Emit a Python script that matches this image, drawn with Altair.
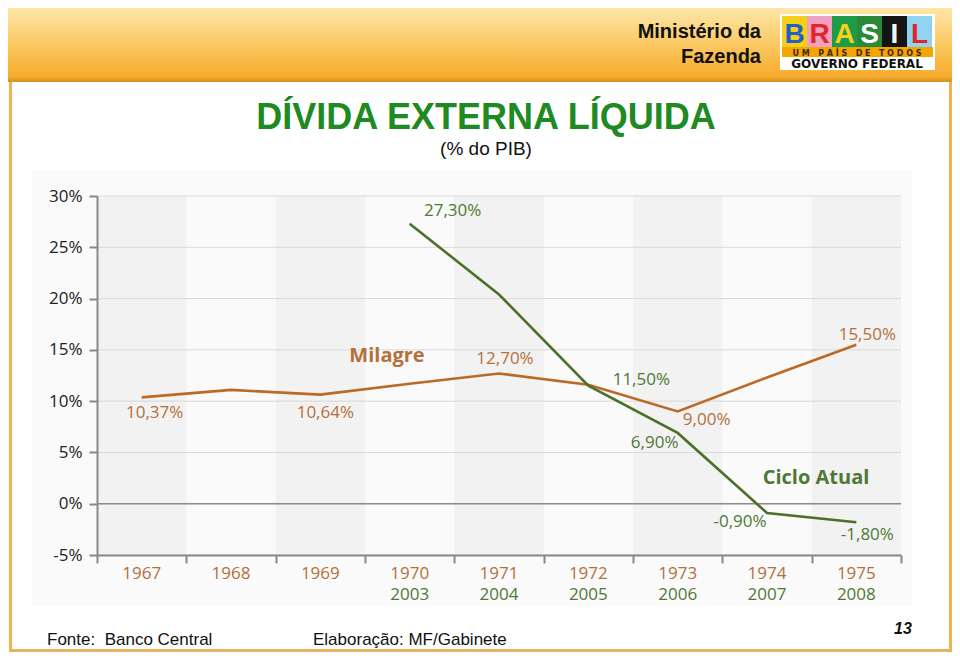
import altair as alt
import pandas as pd

# ---------------- data ----------------
anos_milagre = [1967, 1968, 1969, 1970, 1971, 1972, 1973, 1974, 1975]
divida_milagre = [10.37, 11.1, 10.64, 11.7, 12.70, 11.6, 9.00, 12.3, 15.50]
anos_atual = [2003, 2004, 2005, 2006, 2007, 2008]
divida_atual = [27.30, 20.4, 11.50, 6.90, -0.90, -1.80]
y_ticks = [-5, 0, 5, 10, 15, 20, 25, 30]

BROWN_LINE = "#bb6a26"
BROWN_TXT = "#b3703a"
GREEN_LINE = "#4d7029"
GREEN_TXT = "#4f7834"
FONT = "Open Sans"
NB = "\u00a0"

W, H = 804, 359
PAD_L, PAD_T = 89, 188
SVG_W, SVG_H = 944, 644

n = len(anos_milagre)
off = n - len(anos_atual)
df_m = pd.DataFrame({"i": list(range(n)), "ano": anos_milagre, "v": divida_milagre})
df_a = pd.DataFrame({"i": list(range(off, n)), "ano": anos_atual, "v": divida_atual})
df_bands = pd.DataFrame({"a": [i - 0.5 for i in range(0, n, 2)], "b": [i + 0.5 for i in range(0, n, 2)]})
x_tick_vals = [i - 0.5 for i in range(n + 1)]

xs = alt.Scale(domain=[-0.5, n - 0.5], nice=False, zero=False)
ys = alt.Scale(domain=[-5, 30], nice=False, zero=False)

AX_X = alt.Axis(values=x_tick_vals, labels=False, title=None, grid=False,
                tickSize=8, tickColor="#898989", tickWidth=2,
                domainColor="#898989", domainWidth=2, zindex=1)
AX_Y = alt.Axis(values=y_ticks, title=None, labelExpr="datum.value + '%'",
                labelFont=FONT, labelFontSize=17, labelColor="#222222",
                labelPadding=7, tickSize=8, tickColor="#898989", tickWidth=2,
                domainColor="#898989", domainWidth=2, grid=False, zindex=1)

def X(f):
    return alt.X(f, scale=xs, axis=AX_X)

def Y(f):
    return alt.Y(f, scale=ys, axis=AX_Y)

def px(v):  # page x -> plot coordinate
    return v - 97

def py(v):  # page y -> plot coordinate
    return v - 196

layers = []

def deco_rect(x1, y1, x2, y2, color, **kw):
    d = pd.DataFrame({"k": [0]})
    return alt.Chart(d).mark_rect(color=color, **kw).encode(
        x=alt.value(px(x1)), x2=alt.value(px(x2)), y=alt.value(py(y1)), y2=alt.value(py(y2)))

def deco_text(txt, x, y, size, color, font="Liberation Sans", weight="normal", align="center",
              baseline="alphabetic", style="normal"):
    d = pd.DataFrame({"t": [txt]})
    return alt.Chart(d).mark_text(fontSize=size, color=color, font=font, fontWeight=weight,
                                  align=align, baseline=baseline, fontStyle=style).encode(
        text="t:N", x=alt.value(px(x)), y=alt.value(py(y)))

# light chart background
layers.append(deco_rect(32, 170, 912, 606, "#fafafa"))

# header gradient
grad = alt.Gradient(gradient="linear", x1=0, x2=0, y1=0, y2=1,
                    stops=[alt.GradientStop(color="#fde7a8", offset=0),
                           alt.GradientStop(color="#fbc861", offset=0.5),
                           alt.GradientStop(color="#f6ab2c", offset=0.93),
                           alt.GradientStop(color="#d98f22", offset=1)])
layers.append(deco_rect(8, 8, 952, 82, grad))

# frame lines
layers.append(deco_rect(9, 82, 12, 652, "#efb44c"))
layers.append(deco_rect(949, 82, 952, 652, "#efb44c"))
layers.append(deco_rect(9, 649, 952, 652, "#e6b462"))

# header text
layers.append(deco_text("Ministério da", 761, 38, 20, "#111111", weight="bold", align="right"))
layers.append(deco_text("Fazenda", 761, 63, 20, "#111111", weight="bold", align="right"))

# logo
layers.append(deco_rect(780, 14, 935, 70, "#ffffff"))
logo_letters = ["B", "R", "A", "S", "I", "L"]
logo_bg = ["#f6cf1a", "#f2a0bf", "#1f9b48", "#2a8a3a", "#151515", "#8fd3f0"]
logo_fg = ["#2160c4", "#e0262c", "#f6d21a", "#ffffff", "#f4f4f4", "#e0262c"]
for k, (ch, bg, fg) in enumerate(zip(logo_letters, logo_bg, logo_fg)):
    x0 = 782 + k * 25
    layers.append(deco_rect(x0, 16, x0 + 25, 47, bg))
    layers.append(deco_text(ch, x0 + 12.5, 43, 28, fg, font="Liberation Sans", weight="bold"))
layers.append(deco_rect(782, 47, 933, 57, "#f5a400"))
lema = (NB * 3).join(NB.join(w) for w in ["UM", "PAÍS", "DE", "TODOS"])
layers.append(deco_text(lema, 857, 55.5, 8, "#3a2a10", font="DejaVu Sans", weight="bold"))
layers.append(deco_text("GOVERNO FEDERAL", 857, 68, 12, "#111111", font="DejaVu Sans", weight="bold"))

# title
layers.append(deco_text("DÍVIDA EXTERNA LÍQUIDA", 486, 129, 36, "#1f8a22", weight="bold"))
layers.append(deco_text("(% do PIB)", 486, 155, 19, "#111111"))

# alternating grey bands
bands = alt.Chart(df_bands).mark_rect(color="#f2f2f2").encode(
    x=X("a:Q"), x2="b:Q", y=alt.datum(30, scale=ys, axis=AX_Y), y2=alt.datum(-5))
layers.append(bands)

# horizontal gridlines
grid = alt.Chart(pd.DataFrame({"v": y_ticks})).mark_rule(color="#d9d9d9", strokeWidth=1).encode(
    y=Y("v:Q"), x=alt.value(0), x2=alt.value(W))
layers.append(grid)

# zero line
zero = alt.Chart(pd.DataFrame({"v": [0]})).mark_rule(color="#8c8c8c", strokeWidth=1.6).encode(
    y=Y("v:Q"), x=alt.value(0), x2=alt.value(W))
layers.append(zero)

# lines
line_m = alt.Chart(df_m).mark_line(color=BROWN_LINE, strokeWidth=2.6).encode(x=X("i:Q"), y=Y("v:Q"))
line_a = alt.Chart(df_a).mark_line(color=GREEN_LINE, strokeWidth=2.6).encode(x=X("i:Q"), y=Y("v:Q"))
layers += [line_m, line_a]

# x category labels
lab_m = alt.Chart(df_m).mark_text(font=FONT, fontSize=17, color=BROWN_TXT, baseline="middle").encode(
    x=X("i:Q"), y=alt.value(py(574)), text="ano:N")
lab_a = alt.Chart(df_a).mark_text(font=FONT, fontSize=17, color=GREEN_TXT, baseline="middle").encode(
    x=X("i:Q"), y=alt.value(py(595)), text="ano:N")
layers += [lab_m, lab_a]

def fmt(v):
    return f"{v:.2f}".replace(".", ",") + "%"

def value_label(df, idx, color, dx, dy):
    row = df[df["i"] == idx].copy()
    row["lbl"] = row["v"].map(fmt)
    return alt.Chart(row).mark_text(font=FONT, fontSize=17, color=color, baseline="middle",
                                    dx=dx, dy=dy).encode(x=X("i:Q"), y=Y("v:Q"), text="lbl:N")

layers.append(value_label(df_m, 0, BROWN_TXT, 13, 16))
layers.append(value_label(df_m, 2, BROWN_TXT, 5, 18))
layers.append(value_label(df_m, 4, BROWN_TXT, 6, -14))
layers.append(value_label(df_m, 6, BROWN_TXT, 29, 9))
layers.append(value_label(df_m, 8, BROWN_TXT, 11, -10))
layers.append(value_label(df_a, 3, GREEN_TXT, 43, -13))
layers.append(value_label(df_a, 5, GREEN_TXT, 53, -6))
layers.append(value_label(df_a, 6, GREEN_TXT, -23, 10))
layers.append(value_label(df_a, 7, GREEN_TXT, -27, 9))
layers.append(value_label(df_a, 8, GREEN_TXT, 11, 13))

# series names
layers.append(deco_text("Milagre", 387, 356, 20, BROWN_TXT, font=FONT, weight="bold", baseline="middle"))
layers.append(deco_text("Ciclo Atual", 816, 478, 20, GREEN_TXT, font=FONT, weight="bold", baseline="middle"))

# footer
layers.append(deco_text("Fonte:" + NB + NB + "Banco Central", 47, 645, 17, "#111111", align="left"))
layers.append(deco_text("Elaboração: MF/Gabinete", 313, 645, 17, "#111111", align="left"))
layers.append(deco_text("13", 903, 634, 16, "#111111", weight="bold", style="italic"))

chart = alt.layer(*layers).properties(
    width=W, height=H,
    autosize=alt.AutoSizeParams(type="none"),
    padding={"left": PAD_L, "top": PAD_T, "right": SVG_W - PAD_L - W, "bottom": SVG_H - PAD_T - H},
    background="#ffffff",
).configure_view(strokeWidth=0)

chart.save("out.html", embed_options={"renderer": "svg", "actions": False})
